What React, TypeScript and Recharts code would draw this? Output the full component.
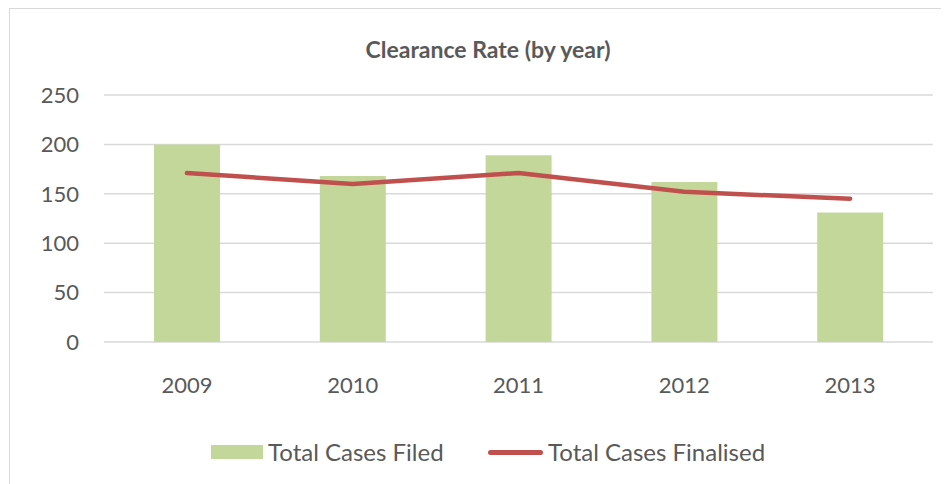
import React from "react";
import { ComposedChart, Bar, Line, XAxis, YAxis, CartesianGrid, Legend } from "recharts";

const years = ["2009", "2010", "2011", "2012", "2013"];
const casesFiled = [200, 168, 189, 162, 131];
const casesFinalised = [171, 160, 171, 152, 145];
const yTicks = [0, 50, 100, 150, 200, 250];

const data = years.map((y, i) => ({ year: y, filed: casesFiled[i], finalised: casesFinalised[i] }));

const FONT = "Lato, 'Open Sans', sans-serif";
const TEXT = "#595959";

const LegendContent = () => (
  <div style={{ position: "relative", width: 600, height: 34, fontFamily: FONT, fontSize: 24, color: TEXT }}>
    <div style={{ position: "absolute", left: 0, top: 9, width: 52, height: 14, background: "#C4D79B" }} />
    <div style={{ position: "absolute", left: 57, top: 0, lineHeight: "32px", whiteSpace: "nowrap" }}>Total Cases Filed</div>
    <div style={{ position: "absolute", left: 277, top: 14, width: 55, height: 5, borderRadius: 3, background: "#C0504D" }} />
    <div style={{ position: "absolute", left: 337, top: 0, lineHeight: "32px", whiteSpace: "nowrap" }}>Total Cases Finalised</div>
  </div>
);

export default function App() {
  return (
    <div
      style={{
        position: "relative",
        marginLeft: 1,
        width: 939,
        height: 475,
        borderLeft: "1px solid #D9D9D9",
        borderTop: "1px solid #D9D9D9",
        background: "#fff",
        overflow: "hidden",
      }}
    >
      <div
        style={{
          position: "absolute",
          left: 0,
          width: 956,
          top: 28,
          lineHeight: "24px",
          textAlign: "center",
          fontFamily: FONT,
          fontWeight: 700,
          fontSize: 23,
          color: TEXT,
          zIndex: 2,
        }}
      >
        Clearance Rate (by year)
      </div>
      <ComposedChart
        width={939}
        height={475}
        data={data}
        margin={{ top: 86, right: 16, bottom: 82, left: 0 }}
      >
        <CartesianGrid vertical={false} stroke="#D9D9D9" strokeWidth={1.5} />
        <XAxis
          dataKey="year"
          axisLine={false}
          tickLine={false}
          tickSize={0}
          tickMargin={35}
          height={60}
          tick={{ fill: TEXT, fontSize: 22, fontFamily: FONT }}
        />
        <YAxis
          domain={[0, 250]}
          ticks={yTicks}
          axisLine={false}
          tickLine={false}
          tickSize={0}
          tickMargin={25}
          width={94}
          tick={{ fill: TEXT, fontSize: 22, fontFamily: FONT }}
        />
        <Bar dataKey="filed" name="Total Cases Filed" fill="#C4D79B" barSize={66} isAnimationActive={false} />
        <Line
          dataKey="finalised"
          name="Total Cases Finalised"
          type="linear"
          stroke="#C0504D"
          strokeWidth={4.5}
          strokeLinecap="round"
          strokeLinejoin="round"
          dot={false}
          activeDot={false}
          isAnimationActive={false}
        />
        <Legend
          layout="horizontal"
          verticalAlign="middle"
          align="center"
          wrapperStyle={{ position: "absolute", top: 427, left: 201, width: 600 }}
          content={<LegendContent />}
        />
      </ComposedChart>
    </div>
  );
}
